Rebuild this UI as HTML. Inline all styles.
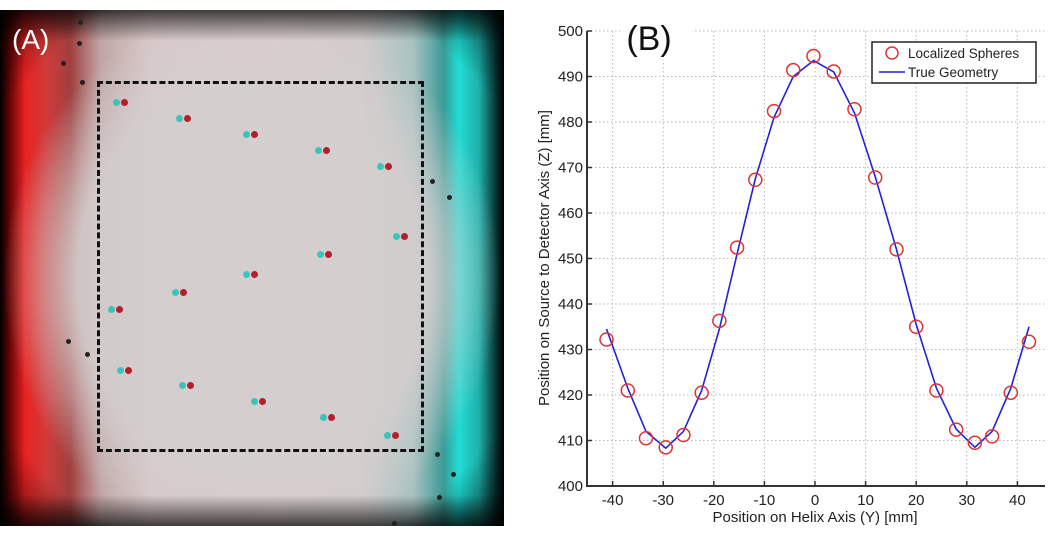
<!DOCTYPE html>
<html><head><meta charset="utf-8"><style>
body{margin:0;background:#fff;width:1050px;height:536px;overflow:hidden;position:relative;font-family:"Liberation Sans",sans-serif}
#panelA{position:absolute;left:0;top:10px;width:504px;height:516px;background:#000;overflow:hidden}
.layer{position:absolute;inset:0}
.dot{position:absolute;width:7px;height:7px;border-radius:50%}
.r{background:#b3202a}.c{background:#3cc4bc}.k{background:#222;width:5px;height:5px}
</style></head><body>
<div id="panelA">
  <div class="layer" style="background:linear-gradient(90deg,#000 0%,#6a0505 2%,#e82222 5%,#d23a3a 9%,#a04040 14%,#c0a6a6 20%,#d8c8c8 30%,#dccccc 55%,#d2cccc 72%,#a8c2c0 82%,#3a9a96 88%,#1fdcd4 91%,#1fb0aa 95%,#083030 98.5%,#000 100%)"></div>
  <div class="layer" style="background:radial-gradient(ellipse 58% 62% at 50% 52%,rgba(212,206,206,0.9) 60%,rgba(212,206,206,0) 85%)"></div>
  <div class="layer" style="background:radial-gradient(ellipse 75% 72% at 50% 50%,rgba(0,0,0,0) 78%,rgba(0,0,0,.75) 100%)"></div>
  <div class="layer" style="background:linear-gradient(180deg,rgba(0,0,0,.7) 0%,rgba(0,0,0,0) 6%,rgba(0,0,0,0) 94%,rgba(0,0,0,.7) 100%)"></div>
  <div style="position:absolute;left:12px;top:14px;color:#fff;font-size:28px">(A)</div>
  <div style="position:absolute;left:97px;top:71px;width:321px;height:365px;border:3px dashed #111"></div>
  <div id="dots"></div>
</div>

<svg id="chart" width="1050" height="536" style="position:absolute;left:0;top:0"></svg>

<script>
const xTicks=[-40,-30,-20,-10,0,10,20,30,40];
const yTicks=[400,410,420,430,440,450,460,470,480,490,500];
const sphereX=[-41.2,-37.0,-33.4,-29.5,-26.0,-22.4,-18.9,-15.4,-11.8,-8.1,-4.3,-0.3,3.7,7.8,11.9,16.1,20.0,24.0,27.9,31.6,35.0,38.7,42.3];
const sphereZ=[432.2,421.0,410.5,408.5,411.2,420.5,436.3,452.4,467.3,482.4,491.4,494.5,491.1,482.8,467.8,452.0,435.0,421.0,412.4,409.5,410.9,420.5,431.7];
const trueX=[-41.2,-37.0,-33.4,-29.5,-26.0,-22.4,-18.9,-15.4,-11.8,-8.1,-4.3,-0.3,3.7,7.8,11.9,16.1,20.0,24.0,27.9,31.6,35.0,38.7,42.3];
const trueZ=[434.5,421.5,412.0,408.3,412.0,421.0,434.5,451.0,467.5,481.0,490.0,493.5,491.0,482.0,468.0,452.0,435.5,421.5,412.5,408.5,412.0,421.5,435.0];

const NS='http://www.w3.org/2000/svg';
const L=587,R=1045,T=31,B=486;
const sx=v=>815+(v)*5.06;
const sy=v=>B-(v-400)*(B-T)/100;
const svg=document.getElementById('chart');
function mk(tag,attrs,parent){const e=document.createElementNS(NS,tag);for(const k in attrs)e.setAttribute(k,attrs[k]);(parent||svg).appendChild(e);return e;}

const grid=mk('g',{});


xTicks.forEach(t=>{const l=mk('line',{x1:sx(t),x2:sx(t),y1:T,y2:B,stroke:'#bbb','stroke-dasharray':'1.5,2.5','stroke-width':1},grid);

});
yTicks.forEach(t=>{const l=mk('line',{x1:L,x2:R,y1:sy(t),y2:sy(t),stroke:'#bbb','stroke-dasharray':'1.5,2.5','stroke-width':1},grid);

});
mk('rect',{x:622,y:18,width:70,height:42,fill:'#fff'});

const ax=mk('path',{d:`M${L},${T} L${L},${B} L${R},${B}`,fill:'none',stroke:'#333','stroke-width':2});



xTicks.forEach(t=>{mk('line',{x1:sx(t),x2:sx(t),y1:B,y2:B-5,stroke:'#333','stroke-width':1.5});
const tx=mk('text',{x:sx(t),y:505,'text-anchor':'middle','font-size':15,fill:'#222'});tx.textContent=t;

});
yTicks.forEach(t=>{mk('line',{x1:L,x2:L+5,y1:sy(t),y2:sy(t),stroke:'#333','stroke-width':1.5});
const tx=mk('text',{x:583,y:sy(t)+5,'text-anchor':'end','font-size':15,fill:'#222'});tx.textContent=t;

});

const xt=mk('text',{x:815,y:522,'text-anchor':'middle','font-size':15,fill:'#222'});xt.textContent='Position on Helix Axis (Y) [mm]';


const yt=mk('text',{x:0,y:0,'text-anchor':'middle','font-size':15,fill:'#222',transform:`translate(549,258) rotate(-90)`});yt.textContent='Position on Source to Detector Axis (Z) [mm]';


const bl=mk('text',{x:649,y:50,'text-anchor':'middle','font-size':34,fill:'#111'});bl.textContent='(B)';



const line=mk('polyline',{points:trueX.map((x,i)=>sx(x)+','+sy(trueZ[i])).join(' '),fill:'none',stroke:'#2222dd','stroke-width':1.6});


sphereX.forEach((x,i)=>{const c=mk('circle',{cx:sx(x),cy:sy(sphereZ[i]),r:6.5,fill:'none',stroke:'#dd3333','stroke-width':1.5});

});

const lg=mk('g',{});


mk('rect',{x:872,y:42,width:164,height:41,fill:'#fff',stroke:'#222','stroke-width':1.5},lg);
mk('circle',{cx:892,cy:53,r:6,fill:'none',stroke:'#dd3333','stroke-width':1.5},lg);
mk('line',{x1:879,x2:905,y1:72,y2:72,stroke:'#2222dd','stroke-width':1.6},lg);
const t1=mk('text',{x:908,y:58,'font-size':13.5,fill:'#222'},lg);t1.textContent='Localized Spheres';


const t2=mk('text',{x:908,y:77,'font-size':13.5,fill:'#222'},lg);t2.textContent='True Geometry';



const dotPairs=[[121,89],[184,105],[251,121],[323,137],[385,153],[401,223],[325,241],[180,279],[116,296],[125,357],[187,372],[259,388],[328,404],[392,422],[251,261]];
const blacks=[[78,10],[77,31],[61,51],[80,70],[430,169],[447,185],[66,329],[85,342],[435,442],[451,462],[437,485],[392,511]];
const dd=document.getElementById('dots');
dotPairs.forEach(p=>{const a=document.createElement('div');a.className='dot r';a.style.left=p[0]+'px';a.style.top=p[1]+'px';


dd.appendChild(a);
const b=document.createElement('div');b.className='dot c';b.style.left=(p[0]-8)+'px';b.style.top=p[1]+'px';


dd.appendChild(b);});
blacks.forEach(p=>{const a=document.createElement('div');a.className='dot k';a.style.left=p[0]+'px';a.style.top=p[1]+'px';


dd.appendChild(a);});
</script>
</body></html>
